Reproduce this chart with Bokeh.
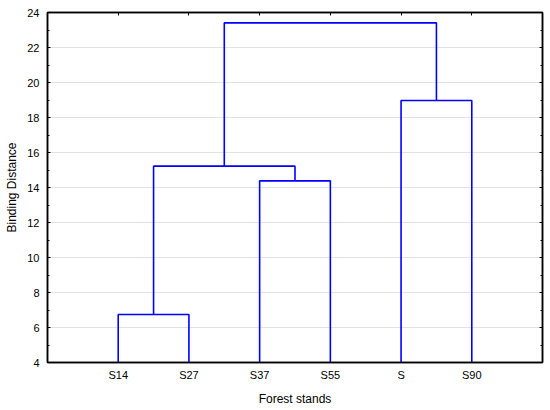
from bokeh.plotting import figure
from bokeh.models import LinearAxis, FixedTicker, SingleIntervalTicker, Range1d
from bokeh.embed import file_html
from bokeh.resources import INLINE

# Leaves (left to right) and agglomeration steps (child_a, child_b, binding distance)
leaves = ["S14", "S27", "S37", "S55", "S", "S90"]
merge_a = ["S14", "S37", "C1", "S", "C3"]
merge_b = ["S27", "S55", "C2", "S90", "C4"]
merge_h = [6.74, 14.38, 15.22, 18.97, 23.41]
merge_name = ["C1", "C2", "C3", "C4", "C5"]
y_ticks = [4, 6, 8, 10, 12, 14, 16, 18, 20, 22, 24]
y_min, y_max = 4, 24

# positions of nodes
pos = {name: i + 1 for i, name in enumerate(leaves)}
hgt = {name: y_min for name in leaves}
xs, ys = [], []
for a, b, h, n in zip(merge_a, merge_b, merge_h, merge_name):
    xa, xb = pos[a], pos[b]
    xs.append([xa, xa, xb, xb])
    ys.append([hgt[a], h, h, hgt[b]])
    pos[n] = (xa + xb) / 2
    hgt[n] = h

FONT = "Liberation Sans"

p = figure(frame_width=495, frame_height=350, output_backend="svg",
           toolbar_location=None, x_range=Range1d(0, len(leaves) + 1),
           y_range=Range1d(y_min, y_max), x_axis_location=None, y_axis_location=None,
           min_border_left=47, min_border_top=12, min_border_right=2, min_border_bottom=2)
p.outline_line_color = "black"
p.outline_line_width = 1.5
p.background_fill_color = "white"
p.border_fill_color = "white"

# grid
p.xgrid.visible = False
p.ygrid.ticker = FixedTicker(ticks=y_ticks[1:-1])
p.ygrid.grid_line_color = "#e2e2e2"
p.ygrid.grid_line_width = 1.2

p.multi_line(xs, ys, line_color="#0000ff", line_width=1.6)

def style(ax):
    ax.axis_line_color = "black"
    ax.axis_line_width = 1.5
    ax.major_tick_line_color = "black"
    ax.minor_tick_line_color = "black"
    ax.major_tick_out = 0
    ax.minor_tick_out = 0
    ax.major_label_text_font = FONT
    ax.major_label_text_font_size = "11px"
    ax.major_label_text_color = "black"
    ax.axis_label_text_font = FONT
    ax.axis_label_text_font_size = "12px"
    ax.axis_label_text_font_style = "normal"
    ax.axis_label_text_color = "black"

def hide_labels(ax):
    ax.major_label_text_color = None
    ax.major_label_text_font_size = "2px"
    ax.major_label_standoff = 0

# left axis
yl = LinearAxis(ticker=SingleIntervalTicker(interval=2, num_minor_ticks=2),
                axis_label="Binding Distance")
style(yl)
yl.major_tick_in = 3
yl.minor_tick_in = 2
yl.major_label_standoff = 8
yl.axis_label_standoff = 5
p.add_layout(yl, "left")

# right axis (ticks only)
yr = LinearAxis(ticker=SingleIntervalTicker(interval=2, num_minor_ticks=2))
style(yr)
yr.major_tick_in = 3
yr.minor_tick_in = 2
hide_labels(yr)
p.add_layout(yr, "right")

# bottom axis
xb = LinearAxis(ticker=FixedTicker(ticks=list(range(1, len(leaves) + 1))),
                axis_label="Forest stands")
style(xb)
xb.major_tick_in = 0
xb.minor_tick_in = 0
xb.major_label_overrides = {i + 1: s for i, s in enumerate(leaves)}
xb.major_label_standoff = 6
xb.axis_label_standoff = 8
p.add_layout(xb, "below")

# top axis (ticks only)
xt = LinearAxis(ticker=FixedTicker(ticks=list(range(1, len(leaves) + 1))))
style(xt)
xt.major_tick_in = 3
xt.minor_tick_in = 0
hide_labels(xt)
p.add_layout(xt, "above")

open("out.html", "w").write(file_html(p, INLINE))
